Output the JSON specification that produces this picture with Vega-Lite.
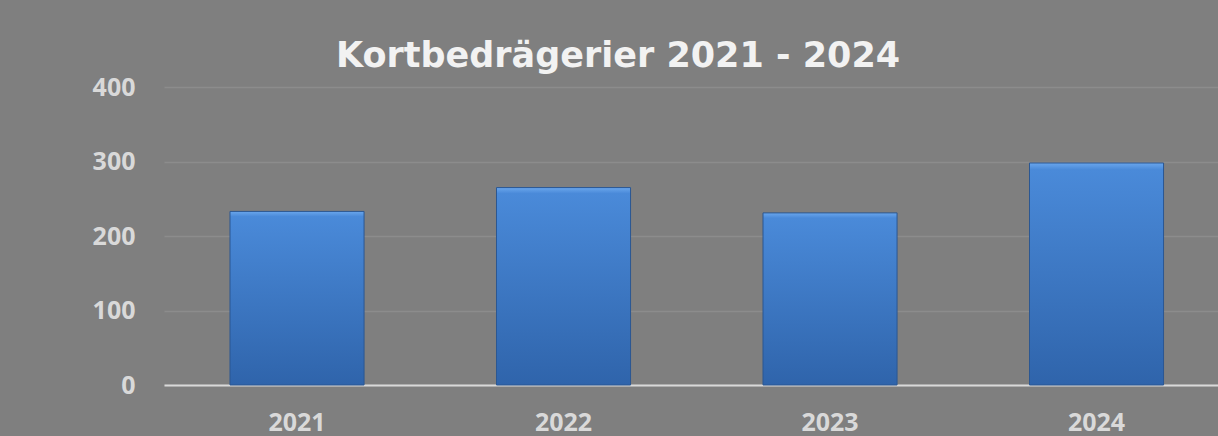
{
  "$schema": "https://vega.github.io/schema/vega-lite/v6.json",
  "autosize": {"type": "none"},
  "width": 1054,
  "height": 298,
  "padding": {"left": 164, "top": 87, "right": 0, "bottom": 51},
  "background": "#7f7f7f",
  "title": {
    "text": "Kortbedrägerier 2021 - 2024",
    "font": "DejaVu Sans",
    "fontWeight": "bold",
    "fontSize": 35,
    "color": "#f2f2f2",
    "anchor": "middle",
    "frame": "group",
    "baseline": "alphabetic",
    "dx": -73,
    "dy": 35,
    "offset": 8
  },
  "data": {
    "values": [
      {"year": "2021", "count": 233},
      {"year": "2022", "count": 265},
      {"year": "2023", "count": 231},
      {"year": "2024", "count": 298}
    ]
  },
  "mark": {
    "type": "bar",
    "stroke": "#2b5792",
    "strokeWidth": 1,
    "color": {
      "gradient": "linear",
      "x1": 0, "y1": 0, "x2": 0, "y2": 1,
      "stops": [
        {"offset": 0, "color": "#6aa6ec"},
        {"offset": 0.03, "color": "#4a8ad9"},
        {"offset": 1, "color": "#2f64ab"}
      ]
    }
  },
  "encoding": {
    "x": {
      "field": "year",
      "type": "ordinal",
      "scale": {"paddingInner": 0.497, "paddingOuter": 0.226, "align": 0.548},
      "axis": {
        "title": null,
        "labelAngle": 0,
        "labelFont": "Open Sans",
        "labelFontWeight": "bold",
        "labelFontSize": 25,
        "labelColor": "#d9d9d9",
        "labelPadding": 25,
        "ticks": false,
        "domainColor": "#d9d9d9",
        "domainWidth": 2,
        "grid": false
      }
    },
    "y": {
      "field": "count",
      "type": "quantitative",
      "scale": {"domain": [0, 400], "nice": false},
      "axis": {
        "title": null,
        "values": [0, 100, 200, 300, 400],
        "labelFont": "Open Sans",
        "labelFontWeight": "bold",
        "labelFontSize": 25,
        "labelColor": "#d9d9d9",
        "labelPadding": 29,
        "ticks": false,
        "domain": false,
        "grid": true,
        "gridColor": "#8c8c8c",
        "gridWidth": 1.5
      }
    }
  },
  "config": {"view": {"stroke": null}}
}
